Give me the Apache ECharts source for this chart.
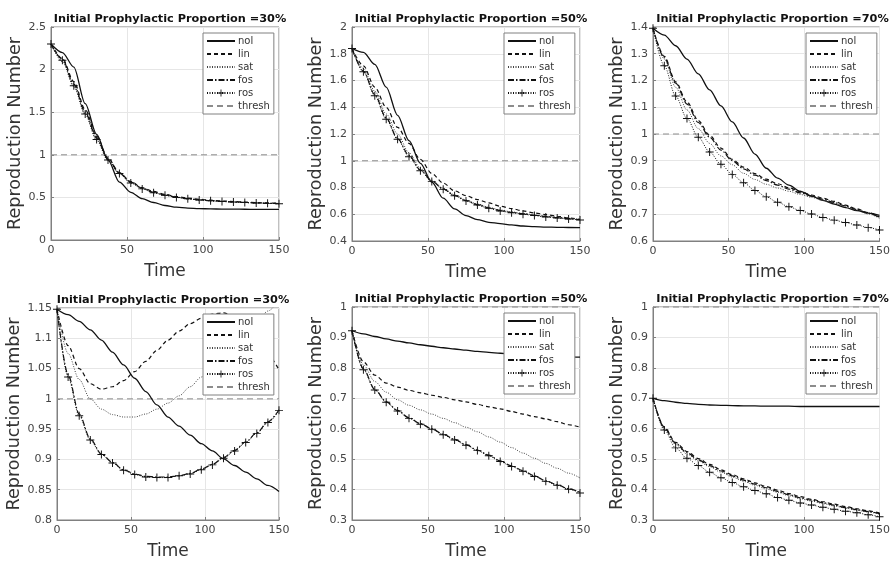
<!DOCTYPE html>
<html><head><meta charset="utf-8">
<script src="https://cdn.jsdelivr.net/npm/echarts@6/dist/echarts.min.js"></script>
<style>html,body{margin:0;padding:0;background:#fff}#c{width:893px;height:561px}</style>
</head><body><div id="c"></div>
<script>
// ---- data ----
const T = [0,7.5,15,22.5,30,37.5,45,52.5,60,67.5,75,82.5,90,97.5,105,112.5,120,127.5,135,142.5,150];
const seriesNames = ['nol','lin','sat','fos','ros','thresh'];
const titles = ['Initial Prophylactic Proportion =30%','Initial Prophylactic Proportion =50%','Initial Prophylactic Proportion =70%',
                'Initial Prophylactic Proportion =30%','Initial Prophylactic Proportion =50%','Initial Prophylactic Proportion =70%'];
const threshT = [0,150];
const threshV = [1,1];

const p1_nol = [2.30,2.20,2.03,1.60,1.24,0.94,0.68,0.56,0.485,0.44,0.405,0.385,0.375,0.368,0.365,0.363,0.362,0.361,0.36,0.36,0.36];
const p1_lin = [2.30,2.13,1.86,1.53,1.22,0.96,0.79,0.685,0.615,0.57,0.535,0.51,0.492,0.478,0.467,0.458,0.451,0.445,0.44,0.435,0.43];
const p1_sat = [2.30,2.09,1.80,1.47,1.17,0.93,0.775,0.67,0.602,0.557,0.524,0.50,0.483,0.47,0.46,0.452,0.445,0.44,0.435,0.43,0.426];
const p1_fos = [2.30,2.12,1.83,1.50,1.20,0.95,0.785,0.68,0.607,0.56,0.528,0.503,0.486,0.472,0.462,0.454,0.447,0.441,0.436,0.432,0.428];
const p1_ros = [2.30,2.11,1.81,1.48,1.18,0.94,0.78,0.67,0.60,0.555,0.525,0.50,0.483,0.47,0.46,0.452,0.445,0.44,0.435,0.43,0.425];

const p2_nol = [1.84,1.81,1.72,1.55,1.34,1.15,0.98,0.84,0.72,0.64,0.59,0.56,0.54,0.53,0.52,0.512,0.507,0.504,0.502,0.501,0.50];
const p2_lin = [1.84,1.71,1.55,1.40,1.25,1.13,1.01,0.905,0.833,0.775,0.739,0.71,0.685,0.66,0.642,0.625,0.61,0.597,0.585,0.573,0.562];
const p2_sat = [1.84,1.69,1.52,1.35,1.20,1.06,0.945,0.855,0.795,0.745,0.707,0.677,0.652,0.632,0.618,0.606,0.596,0.586,0.578,0.57,0.562];
const p2_fos = [1.84,1.67,1.495,1.32,1.165,1.04,0.932,0.848,0.79,0.74,0.702,0.672,0.648,0.628,0.614,0.603,0.593,0.583,0.575,0.567,0.559];
const p2_ros = [1.84,1.666,1.486,1.31,1.16,1.03,0.926,0.844,0.786,0.739,0.70,0.669,0.644,0.624,0.612,0.60,0.59,0.58,0.572,0.565,0.557];

const p3_nol = [1.395,1.37,1.33,1.28,1.225,1.165,1.105,1.045,0.985,0.925,0.872,0.835,0.809,0.786,0.768,0.752,0.738,0.725,0.714,0.704,0.696];
const p3_lin = [1.395,1.29,1.195,1.12,1.05,0.995,0.947,0.905,0.876,0.852,0.831,0.814,0.799,0.785,0.772,0.76,0.748,0.734,0.72,0.706,0.69];
const p3_sat = [1.395,1.28,1.175,1.09,1.02,0.965,0.918,0.885,0.853,0.83,0.812,0.798,0.786,0.774,0.763,0.752,0.741,0.729,0.716,0.701,0.685];
const p3_fos = [1.395,1.285,1.19,1.112,1.043,0.988,0.94,0.90,0.87,0.846,0.826,0.809,0.794,0.78,0.768,0.756,0.744,0.731,0.718,0.704,0.688];
const p3_ros = [1.395,1.255,1.142,1.058,0.988,0.933,0.887,0.849,0.818,0.789,0.765,0.745,0.728,0.714,0.701,0.688,0.678,0.669,0.66,0.65,0.641];

const p4_nol = [1.148,1.139,1.128,1.114,1.097,1.077,1.056,1.034,1.012,0.99,0.97,0.955,0.94,0.926,0.914,0.901,0.89,0.879,0.868,0.857,0.847];
const p4_lin = [1.148,1.088,1.05,1.025,1.016,1.02,1.03,1.045,1.062,1.08,1.097,1.112,1.124,1.133,1.14,1.142,1.136,1.12,1.098,1.072,1.048];
const p4_sat = [1.148,1.075,1.032,1.0,0.983,0.974,0.97,0.97,0.975,0.983,0.993,1.005,1.02,1.036,1.054,1.073,1.092,1.11,1.127,1.145,1.162];
const p4_fos = [1.148,1.04,0.975,0.934,0.909,0.895,0.883,0.876,0.872,0.871,0.871,0.873,0.877,0.884,0.892,0.903,0.915,0.929,0.944,0.962,0.982];
const p4_ros = [1.148,1.036,0.972,0.932,0.908,0.894,0.882,0.875,0.871,0.87,0.87,0.873,0.876,0.883,0.891,0.902,0.914,0.928,0.943,0.961,0.981];

const p5_nol = [0.922,0.912,0.903,0.895,0.888,0.882,0.876,0.871,0.866,0.862,0.858,0.854,0.851,0.848,0.845,0.842,0.84,0.838,0.837,0.836,0.835];
const p5_lin = [0.922,0.82,0.776,0.75,0.737,0.726,0.718,0.71,0.703,0.695,0.688,0.68,0.672,0.665,0.657,0.648,0.64,0.632,0.623,0.613,0.605];
const p5_sat = [0.922,0.81,0.755,0.72,0.695,0.677,0.662,0.648,0.634,0.62,0.605,0.59,0.573,0.556,0.538,0.52,0.503,0.486,0.47,0.454,0.438];
const p5_fos = [0.922,0.797,0.729,0.689,0.66,0.636,0.617,0.60,0.582,0.565,0.548,0.53,0.513,0.494,0.478,0.462,0.445,0.429,0.416,0.403,0.391];
const p5_ros = [0.922,0.794,0.727,0.687,0.658,0.634,0.615,0.598,0.58,0.563,0.546,0.528,0.511,0.492,0.476,0.46,0.443,0.427,0.414,0.401,0.389];

const p6_nol = [0.70,0.692,0.687,0.683,0.68,0.678,0.677,0.676,0.675,0.675,0.674,0.674,0.674,0.673,0.673,0.673,0.673,0.673,0.673,0.673,0.673];
const p6_lin = [0.70,0.605,0.555,0.525,0.502,0.483,0.465,0.449,0.435,0.422,0.41,0.398,0.387,0.377,0.368,0.36,0.352,0.344,0.337,0.33,0.323];
const p6_sat = [0.70,0.60,0.548,0.517,0.494,0.475,0.457,0.441,0.427,0.414,0.402,0.391,0.38,0.37,0.362,0.354,0.346,0.339,0.332,0.326,0.319];
const p6_fos = [0.70,0.603,0.552,0.521,0.498,0.479,0.461,0.445,0.431,0.418,0.406,0.394,0.383,0.373,0.365,0.357,0.349,0.341,0.334,0.328,0.321];
const p6_ros = [0.70,0.596,0.537,0.503,0.479,0.457,0.439,0.423,0.409,0.397,0.386,0.374,0.365,0.356,0.349,0.342,0.335,0.329,0.324,0.317,0.311];

const yMin = [0, 0.4, 0.6, 0.8, 0.3, 0.3];
const yMax = [2.5, 2, 1.4, 1.15, 1, 1];
const yStep = [0.5, 0.2, 0.1, 0.05, 0.1, 0.1];

const panels = [
  [p1_nol,p1_lin,p1_sat,p1_fos,p1_ros],
  [p2_nol,p2_lin,p2_sat,p2_fos,p2_ros],
  [p3_nol,p3_lin,p3_sat,p3_fos,p3_ros],
  [p4_nol,p4_lin,p4_sat,p4_fos,p4_ros],
  [p5_nol,p5_lin,p5_sat,p5_fos,p5_ros],
  [p6_nol,p6_lin,p6_sat,p6_fos,p6_ros]
];

// ---- layout & style ----
const gridPos = [
  {left:51, top:27, width:228, height:213},
  {left:352, top:27, width:228, height:214},
  {left:653, top:27, width:229, height:214},
  {left:57, top:308, width:222, height:213},
  {left:352, top:307, width:228, height:215},
  {left:653, top:307, width:229, height:215}
];
const yNameGap = [22, 25, 21, 30, 26, 22];
const FONT = 'DejaVu Sans';
const plusPath = 'path://M4.4,0H5.6V4.4H10V5.6H5.6V10H4.4V5.6H0V4.4H4.4Z';
const styles = {
  nol:   {lineStyle:{color:'#111', width:1.3, type:'solid'}},
  lin:   {lineStyle:{color:'#111', width:1.2, type:[4,3]}},
  sat:   {lineStyle:{color:'#444', width:1, type:[1,1.5]}},
  fos:   {lineStyle:{color:'#111', width:1.2, type:[6,2,1.5,2]}},
  ros:   {lineStyle:{color:'#111', width:1, type:[1,1.5]}},
  thresh:{lineStyle:{color:'#8c8c8c', width:1, type:[6,4]}}
};
const hiddenIcon = {color:'rgba(0,0,0,0)', borderWidth:0, opacity:0};
const legendData = seriesNames.map(n => n==='ros' ? {name:n} : {name:n, itemStyle:hiddenIcon});

const option = {
  animation:false,
  backgroundColor:'#fff',
  textStyle:{fontFamily:FONT},
  title:[], grid:[], xAxis:[], yAxis:[], legend:[], series:[]
};

gridPos.forEach((g,i)=>{
  option.grid.push({left:g.left, top:g.top, width:g.width, height:g.height, show:true, borderColor:'#808080', borderWidth:1, containLabel:false});
  option.title.push({text:titles[i], left:g.left+g.width/2, top:g.top-18, textAlign:'center',
    textStyle:{fontFamily:FONT, fontSize:11.3, fontWeight:'bold', color:'#111'}});
  option.xAxis.push({type:'value', gridIndex:i, min:0, max:150, interval:50,
    name:'Time', nameLocation:'middle', nameGap:23,
    nameTextStyle:{fontFamily:FONT, fontSize:17, color:'#333'},
    axisLine:{show:true, lineStyle:{color:'#808080'}},
    axisTick:{show:true, inside:true, length:3, lineStyle:{color:'#808080'}},
    axisLabel:{fontFamily:FONT, fontSize:11, color:'#444', margin:5},
    splitLine:{show:true, lineStyle:{color:'#e6e6e6', width:1}}});
  option.yAxis.push({type:'value', gridIndex:i, min:yMin[i], max:yMax[i], interval:yStep[i],
    name:'Reproduction Number', nameLocation:'middle', nameGap:yNameGap[i], nameRotate:90,
    nameTextStyle:{fontFamily:FONT, fontSize:17.6, color:'#333'},
    axisLine:{show:true, lineStyle:{color:'#808080'}},
    axisTick:{show:true, inside:true, length:3, lineStyle:{color:'#808080'}},
    axisLabel:{fontFamily:FONT, fontSize:11, color:'#444', margin:5},
    splitLine:{show:true, lineStyle:{color:'#e6e6e6', width:1}}});
  option.legend.push({data:legendData, orient:'vertical', left:g.left+g.width-76, top:g.top+6,
    itemWidth:28, itemHeight:9, itemGap:3, padding:[3,4,3,3],
    backgroundColor:'#fff', borderColor:'#808080', borderWidth:1, borderRadius:0,
    textStyle:{fontFamily:FONT, fontSize:10, color:'#333', padding:[0,0,0,-2]},
    selectedMode:false});
  const arrs = panels[i];
  ['nol','lin','sat','fos','ros'].forEach((nm,k)=>{
    const isRos = nm==='ros';
    option.series.push({
      name:nm, type:'line', xAxisIndex:i, yAxisIndex:i,
      data:T.map((t,j)=>[t, arrs[k][j]]),
      smooth:0.3, smoothMonotone:'x',
      symbol: isRos ? plusPath : 'none', symbolSize:8, showSymbol:isRos,
      itemStyle:{color:'#111'},
      lineStyle:styles[nm].lineStyle,
      z: isRos ? 4 : 3
    });
  });
  option.series.push({name:'thresh', type:'line', xAxisIndex:i, yAxisIndex:i,
    data:threshT.map((t,j)=>[t, threshV[j]]), symbol:'none', showSymbol:false,
    itemStyle:{color:'#8c8c8c'}, lineStyle:styles.thresh.lineStyle, clip:false, z:2});
});

const chart = echarts.init(document.getElementById('c'), null, {renderer:'canvas'});
chart.setOption(option);
</script>
</body></html>
